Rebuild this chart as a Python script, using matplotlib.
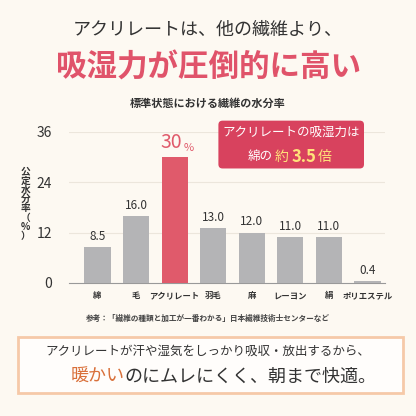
import matplotlib
matplotlib.use("Agg")
import matplotlib.pyplot as plt
from matplotlib.patches import FancyBboxPatch

plt.rcParams['font.family'] = ['Noto Sans CJK JP', 'DejaVu Sans']

categories = ["綿", "毛", "アクリレート", "羽毛", "麻", "レーヨン", "絹", "ポリエステル"]
values = [8.5, 16.0, 30.0, 13.0, 12.0, 11.0, 11.0, 0.4]
labels = ["8.5", "16.0", "30", "13.0", "12.0", "11.0", "11.0", "0.4"]
yticks = [0, 12, 24, 36]

bg = "#fdf9f2"
pink = "#e05a6b"
grey = "#b4b4b6"
fig = plt.figure(figsize=(4.16, 4.16), dpi=100, facecolor=bg)

ax = fig.add_axes([0.165, 0.32, 0.76, 0.363])
ax.set_facecolor(bg)
x = list(range(len(categories)))
colors = [pink if i == 2 else grey for i in x]
ax.bar(x, values, width=0.68, color=colors, zorder=3)
ax.set_ylim(0, 36)
ax.set_xlim(-0.75, 7.45)
ax.set_yticks(yticks)
ax.set_yticklabels([str(t) for t in yticks], fontsize=10, color="#333")
ax.set_xticks(x)
ax.set_xticklabels(categories, fontsize=6, color="#333", fontweight="bold")
ax.tick_params(length=0, pad=6)
ax.yaxis.set_tick_params(pad=12)
for s in ["top", "right", "left"]:
    ax.spines[s].set_visible(False)
ax.spines["bottom"].set_color("#999")
for t in yticks[1:]:
    ax.axhline(t, color="#ece6dc", lw=0.8, zorder=1)
for i, (v, l) in enumerate(zip(values, labels)):
    if i == 2:
        ax.text(i + 0.2, v + 1.0, "30", ha="right", va="bottom", fontsize=14, color=pink)
        ax.text(i + 0.22, v + 1.0, "%", ha="left", va="bottom", fontsize=8, color=pink)
    else:
        ax.text(i, v + 1.0, l, ha="center", va="bottom", fontsize=8.5, color="#333")

fig.text(0.5, 0.928, "アクリレートは、他の繊維より、", ha="center", va="center", fontsize=13, color="#333")
fig.text(0.5, 0.837, "吸湿力が圧倒的に高い", ha="center", va="center", fontsize=22, color="#e0536a", fontweight="bold")
fig.text(0.5, 0.752, "標準状態における繊維の水分率", ha="center", va="center", fontsize=8, color="#333", fontweight="bold")
fig.text(0.062, 0.51, "公\n定\n水\n分\n率\n（\n%\n）", ha="center", va="center", fontsize=7, color="#333", linespacing=0.9, fontweight="bold")

box = FancyBboxPatch((0.525, 0.595), 0.35, 0.115, boxstyle="round,pad=0,rounding_size=0.01",
                     transform=fig.transFigure, facecolor="#d8425e", edgecolor="none")
fig.patches.append(box)
fig.text(0.70, 0.683, "アクリレートの吸湿力は", ha="center", va="center", fontsize=9, color="white")
fig.text(0.595, 0.623, "綿の", ha="left", va="center", fontsize=9, color="white")
fig.text(0.66, 0.623, "約", ha="left", va="center", fontsize=10, color="#ffe27a")
fig.text(0.70, 0.623, "3.5", ha="left", va="center", fontsize=12, color="#ffe27a", fontweight="bold")
fig.text(0.765, 0.623, "倍", ha="left", va="center", fontsize=10, color="#ffe27a")

fig.text(0.5, 0.235, "参考：「繊維の種類と加工が一番わかる」日本繊維技術士センターなど", ha="center", va="center", fontsize=5.5, color="#444", fontweight="bold")

b2 = FancyBboxPatch((0.043, 0.055), 0.925, 0.135, boxstyle="square,pad=0",
                    transform=fig.transFigure, facecolor="#fffdfb", edgecolor="#f6c9a8", lw=2)
fig.patches.append(b2)
fig.text(0.5, 0.155, "アクリレートが汗や湿気をしっかり吸収・放出するから、", ha="center", va="center", fontsize=9, color="#333")
fig.text(0.30, 0.095, "暖かい", ha="right", va="center", fontsize=13, color="#d9703a")
fig.text(0.30, 0.095, "のにムレにくく、朝まで快適。", ha="left", va="center", fontsize=13, color="#333")

fig.savefig("out.png", dpi=100, facecolor=bg)
